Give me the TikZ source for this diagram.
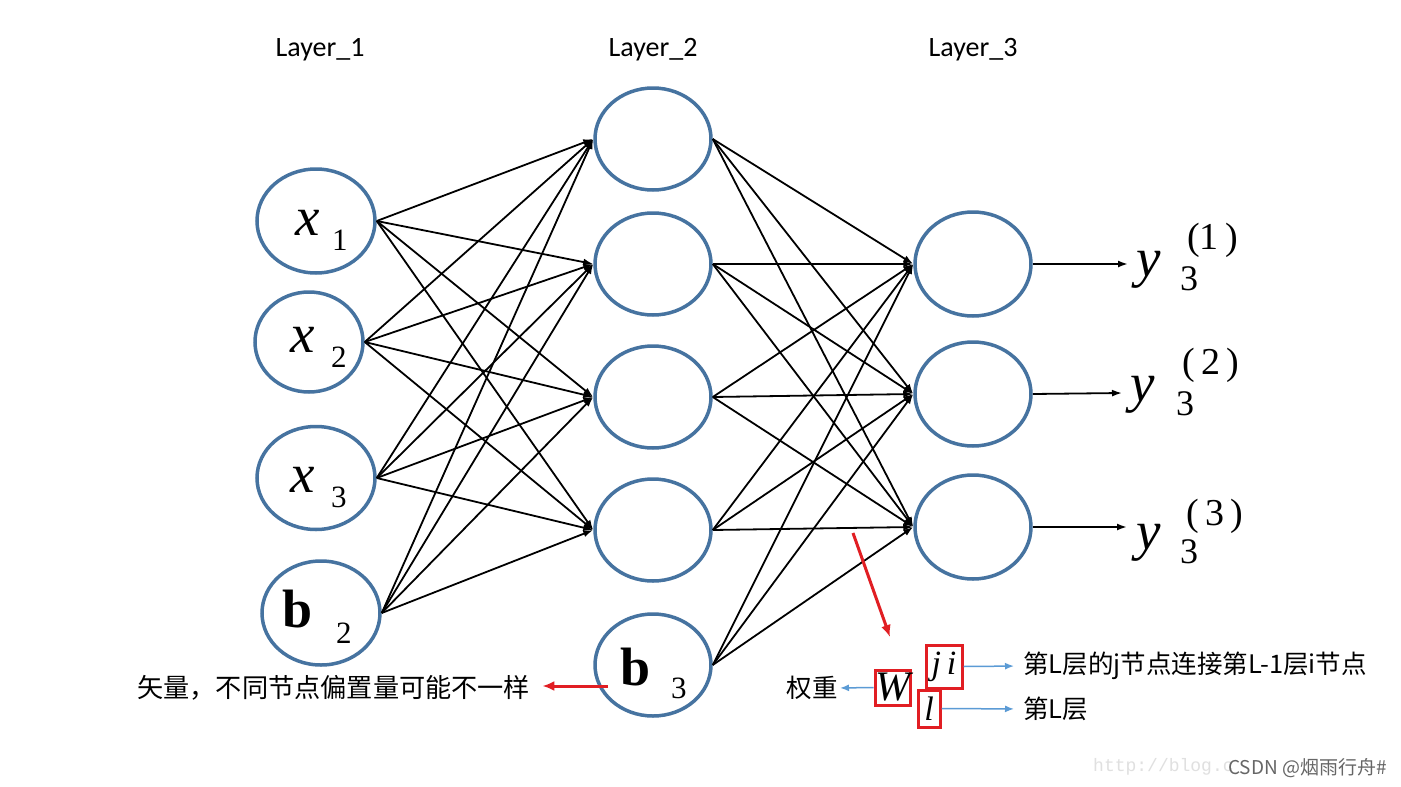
\documentclass[tikz,border=0pt]{standalone}
\usepackage{fontspec}
\setmainfont{Liberation Serif}
\newfontfamily\cjkfont{Noto Sans CJK SC}
\newfontfamily\layerfont{Carlito}
\newfontfamily\wmmono{Liberation Mono}
\usetikzlibrary{shapes.geometric,arrows.meta}
\definecolor{nblue}{RGB}{70,115,160}
\definecolor{lblue}{RGB}{91,155,213}
\definecolor{rred}{RGB}{225,30,35}
\begin{document}
\begin{tikzpicture}[x=1pt,y=-1pt,
  neuron/.style={ellipse, draw=nblue, line width=3.5pt, minimum width=116pt, minimum height=102pt, inner sep=0pt},
  conn/.style={line width=1.8pt, -{Latex[length=10pt,width=7pt]}},
  txt/.style={inner sep=0pt, anchor=base west},
  big/.style={font=\fontsize{55}{55}\selectfont\itshape},
  bigb/.style={font=\fontsize{54}{54}\selectfont\bfseries},
  subs/.style={font=\fontsize{31}{31}\selectfont},
  ysubs/.style={font=\fontsize{36}{36}\selectfont},
  ysup/.style={font=\fontsize{38}{38}\selectfont},
  layer/.style={font=\layerfont\fontsize{28}{28}\selectfont, inner sep=0pt},
  cjk/.style={font=\cjkfont\fontsize{25.5}{25.5}\selectfont, inner sep=0pt},
  redarr/.style={draw=rred, line width=3pt, -{Latex[length=12pt,width=10pt]}},
  bluearr/.style={draw=lblue, line width=1.5pt, -{Latex[length=9pt,width=7pt]}},
  redbox/.style={draw=rred, line width=3pt, inner sep=0pt}
]
\useasboundingbox (0,0) rectangle (1401,787);
\fill[white] (0,0) rectangle (1401,787);

% layer titles
\node[layer] (L1) at (320,50) {Layer\_1};
\node[layer] (L2) at (653,50) {Layer\_2};
\node[layer] (L3) at (973,50) {Layer\_3};

% neurons
\node[neuron, minimum width=118pt, minimum height=104pt] (x1) at (316,221) {};
\node[neuron, minimum width=108pt, minimum height=100pt] (x2) at (309,342) {};
\node[neuron, minimum width=118pt, minimum height=103pt] (x3) at (316,478) {};
\node[neuron, minimum width=118pt, minimum height=104pt] (b2) at (321,613) {};
\node[neuron] (n1) at (653,139) {};
\node[neuron] (n2) at (653,264) {};
\node[neuron] (n3) at (653,397) {};
\node[neuron] (n4) at (653,530) {};
\node[neuron] (b3) at (653,665) {};
\node[neuron, minimum height=104pt] (o1) at (973,264) {};
\node[neuron, minimum height=104pt] (o2) at (973,394) {};
\node[neuron, minimum height=104pt] (o3) at (973,527) {};

% labels inside neurons
\node[txt, big] (x1t) at (295,235) {x};
\node[txt, subs] (x1s) at (332,250) {1};
\node[txt, big] (x2t) at (290,352) {x};
\node[txt, subs] (x2s) at (331,367) {2};
\node[txt, big] (x3t) at (290,492) {x};
\node[txt, subs] (x3s) at (331,507) {3};
\node[txt, bigb] (b2t) at (282,627) {b};
\node[txt, subs] (b2s) at (336,643) {2};
\node[txt, bigb] (b3t) at (620,685) {b};
\node[txt, subs] (b3s) at (671,698) {3};

% connections layer 1 -> 2
\foreach \s in {x1,x2,x3,b2}{
  \foreach \t in {n1,n2,n3,n4}{
    \draw[conn] (\s.east) -- (\t.west);
  }
}
% connections layer 2 -> 3
\foreach \s in {n1,n2,n3,n4,b3}{
  \foreach \t in {o1,o2,o3}{
    \draw[conn] (\s.east) -- (\t.west);
  }
}

% outputs
\coordinate (e1) at (1128,264);
\coordinate (e2) at (1122,393);
\coordinate (e3) at (1127,527);
\draw[conn] (o1.east) -- (e1);
\draw[conn] (o2.east) -- (e2);
\draw[conn] (o3.east) -- (e3);

\node[txt, big] (y1) at (1136,276) {y};
\node[txt, ysubs] (y1s) at (1180,290) {3};
\node[txt, ysup] (y1p) at (1187,249) {(1\,)};
\node[txt, big] (y2) at (1130,401) {y};
\node[txt, ysubs] (y2s) at (1176,415) {3};
\node[txt, ysup] (y2p) at (1182,374) {(\,2\,)};
\node[txt, big] (y3) at (1136,549) {y};
\node[txt, ysubs] (y3s) at (1180,563) {3};
\node[txt, ysup] (y3p) at (1186,525) {(\,3\,)};

% bias annotation
\node[cjk, anchor=west, font=\cjkfont\fontsize{26.2}{26.2}\selectfont] (bias) at (137,688) {矢量，不同节点偏置量可能不一样};
\coordinate (rtail) at (608,686);
\draw[redarr, shorten >=12pt] (rtail) -- (rtail -| bias.east);

% weight annotation
\coordinate (wt) at (853,533);
\coordinate (wh) at (890,637);
\draw[redarr] (wt) -- (wh);
\node[redbox, minimum width=35pt, minimum height=35pt, font=\fontsize{42}{42}\selectfont\itshape] (W) at (892.5,687.5) {W};
\node[redbox, minimum width=36pt, minimum height=43pt, font=\fontsize{34}{34}\selectfont\itshape] (ji) at (944,666.5) {j\,i};
\node[redbox, minimum width=22pt, minimum height=37pt, font=\fontsize{34}{34}\selectfont\itshape] (ll) at (929,708.5) {l};
\node[cjk, anchor=west] (t1) at (1023,666) {第L层的j节点连接第L-1层i节点};
\node[cjk, anchor=west] (t2) at (1023,709) {第L层};
\node[cjk, anchor=east] (qz) at (838,688) {权重};
\draw[bluearr, shorten >=9pt] (ji.east) -- (t1.west);
\draw[bluearr, shorten >=9pt] (ll.east) -- (t2.west);
\draw[bluearr, shorten >=2pt] (W.west) -- (qz.east);

% watermark
\node[anchor=west, inner sep=0pt, text=black!12, font=\wmmono\fontsize{18}{18}\selectfont] (wm1) at (1093,767) {http://blog.c};
\node[anchor=west, inner sep=0pt, text=black!60, font=\cjkfont\fontsize{19}{19}\selectfont] (wm2) at (1228,768) {CSDN @烟雨行舟\#};
\end{tikzpicture}
\end{document}
